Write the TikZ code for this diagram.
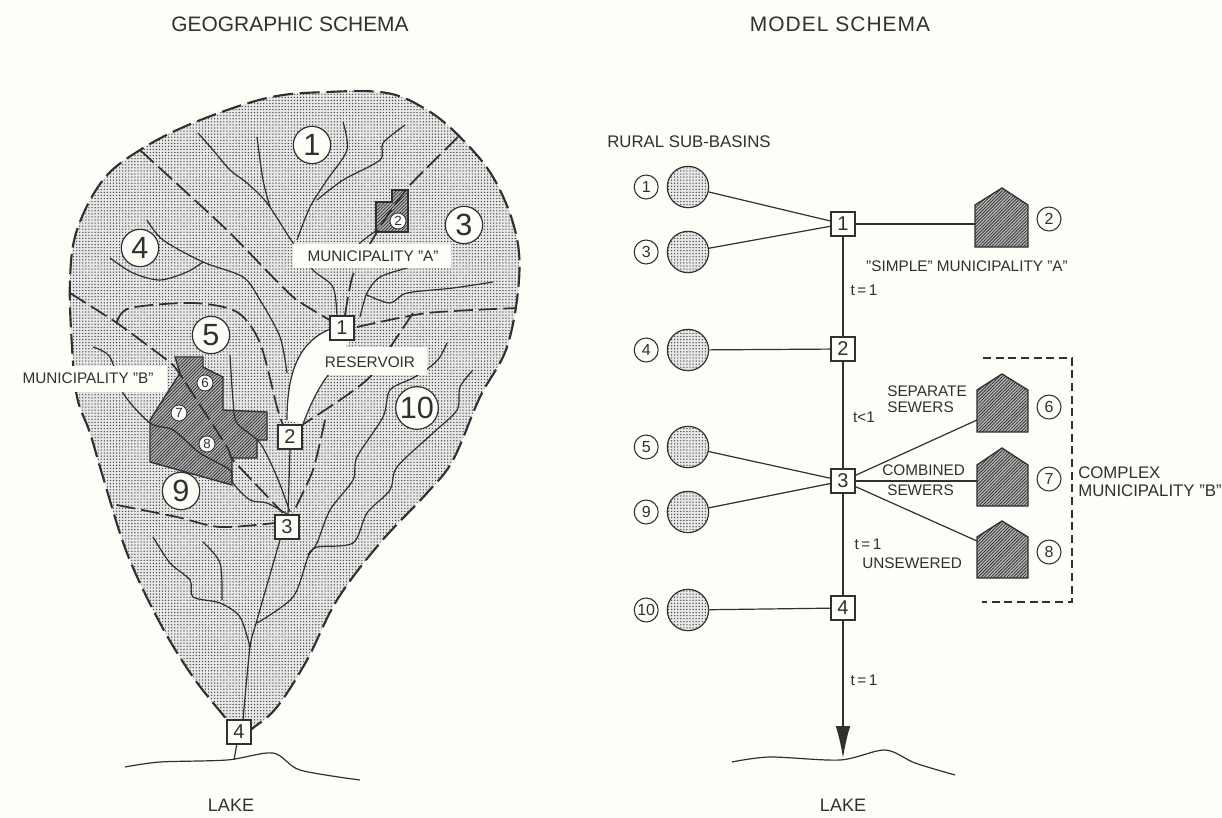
\documentclass[tikz,border=0pt]{standalone}
\usepackage{fontspec}
\setmainfont{Liberation Sans}
\usetikzlibrary{arrows.meta,positioning,patterns.meta}
\definecolor{paper}{RGB}{254,253,248}
\definecolor{ink}{RGB}{48,48,48}
\definecolor{stipple}{RGB}{70,70,70}
\tikzset{
  titletext/.style={text=ink, font=\fontsize{15.7}{17}\selectfont, inner sep=0pt},
  labeltext/.style={text=ink, font=\fontsize{11.5}{13.5}\selectfont, inner sep=0pt, align=left},
  widetext/.style={text=ink, font=\fontsize{12.6}{14}\selectfont, inner sep=0pt, align=left},
  laketext/.style={text=ink, font=\fontsize{13.5}{15}\selectfont, inner sep=0pt},
  whitebox/.style={fill=paper, inner sep=0pt},
  boxnode/.style={draw=ink, fill=paper, line width=1.1pt, minimum size=18pt, inner sep=0pt,
    text=ink, font=\fontsize{15}{17}\selectfont},
  bignum/.style={circle, draw=ink, fill=paper, line width=.9pt, minimum size=28pt, inner sep=0pt,
    text=ink, font=\fontsize{23}{25}\selectfont},
  midnum/.style={circle, draw=ink, fill=paper, line width=.8pt, minimum size=18pt, inner sep=0pt,
    text=ink, font=\fontsize{12}{14}\selectfont},
  smallnum/.style={circle, draw=ink, fill=paper, line width=.6pt, minimum size=12pt, inner sep=0pt,
    text=ink, font=\fontsize{10}{12}\selectfont},
  basinfill/.style={fill=black!9, postaction={pattern={Dots[distance=2.3pt,radius=.55pt]}, pattern color=stipple}},
  hatchfill/.style={fill=black!28, postaction={pattern={Lines[angle=45,distance=1.7pt,line width=.6pt]}, pattern color=black!80}},
  subbasin/.style={circle, draw=ink, line width=.9pt, minimum size=31pt, inner sep=0pt, basinfill},
  outline/.style={draw=ink, line width=1.6pt, dash pattern=on 15pt off 5pt},
  ridge/.style={draw=ink, line width=1.3pt, dash pattern=on 14pt off 4.5pt},
  river/.style={draw=ink, line width=.9pt},
  muni/.style={draw=ink, line width=1pt, hatchfill},
  link/.style={draw=ink, line width=.9pt},
  mainline/.style={draw=ink, line width=1.1pt}
}
\begin{document}
\begin{tikzpicture}[x=.75pt,y=-.75pt]
\useasboundingbox (0,0) rectangle (1222,818);
\fill[paper] (0,0) rectangle (1222,818);

\node[titletext] (geotitle) at (290,24) {GEOGRAPHIC SCHEMA};
\node[titletext] (modeltitle) at (840,24) {\addfontfeature{LetterSpace=5}MODEL SCHEMA};

\fill[basinfill] plot[smooth cycle,tension=.6] coordinates {(267,98) (327,92) (387,93) (427,110) (460,137) (493,177) (515,230) (519,280) (507,347) (480,397) (453,460) (427,493) (380,543) (337,600) (307,660) (277,707) (253,728) (239,738) (227,720) (193,677) (160,623) (127,553) (103,477) (90,433) (77,397) (72,347) (70,280) (77,230) (103,180) (140,150) (193,123)};
\draw[outline] plot[smooth cycle,tension=.6] coordinates {(267,98) (327,92) (387,93) (427,110) (460,137) (493,177) (515,230) (519,280) (507,347) (480,397) (453,460) (427,493) (380,543) (337,600) (307,660) (277,707) (253,728) (239,738) (227,720) (193,677) (160,623) (127,553) (103,477) (90,433) (77,397) (72,347) (70,280) (77,230) (103,180) (140,150) (193,123)};

\draw[muni] (175,357) -- (203,357) -- (203,367) -- (223,377) -- (223,410) -- (267,412) -- (267,440) -- (257,440) -- (257,458) -- (232,458) -- (232,485) -- (150,462) -- (150,420) -- (180,373) -- cycle;
\draw[muni] (392,190) -- (408,190) -- (408,232) -- (376,232) -- (376,202) -- (392,202) -- cycle;

\draw[ridge] plot[smooth,tension=.3] coordinates {(140,150) (227,230) (293,297) (342,327)};
\draw[ridge] plot[smooth,tension=.3] coordinates {(458,137) (410,185) (383,222) (353,275) (345,315)};
\draw[ridge] plot[smooth,tension=.4] coordinates {(357,327) (427,313) (517,308)};
\draw[ridge] plot[smooth,tension=.3] coordinates {(70,293) (117,323) (163,357) (177,370) (227,447) (233,460) (283,513)};
\draw[ridge] plot[smooth,tension=.5] coordinates {(117,322) (130,308) (193,303) (237,312) (260,343) (277,407) (283,425)};
\draw[ridge] plot[smooth,tension=.4] coordinates {(413,313) (393,343) (370,377) (340,400) (302,425)};
\draw[ridge] plot[smooth,tension=.4] coordinates {(325,420) (313,470) (293,513)};
\draw[ridge] plot[smooth,tension=.5] coordinates {(117,505) (177,517) (220,527) (275,523)};

\draw[river] plot[smooth,tension=.5] coordinates {(198,133) (213,150) (230,170) (247,183) (267,203) (293,243) (313,270) (333,287) (337,317)};
\draw[river] plot[smooth,tension=.5] coordinates {(257,137) (263,180) (270,207)};
\draw[river] plot[smooth,tension=.5] coordinates {(343,122) (347,150) (327,180) (310,207) (297,240)};
\draw[river] plot[smooth,tension=.5] coordinates {(405,125) (383,143) (380,160) (343,180) (317,200)};
\draw[river] plot[smooth,tension=.5] coordinates {(377,230) (360,243) (352,255)};
\draw[river] plot[smooth,tension=.5] coordinates {(407,268) (380,277) (367,293) (360,317)};
\draw[river] plot[smooth,tension=.5] coordinates {(493,282) (453,288) (407,293) (390,303) (367,295)};
\draw[river] plot[smooth,tension=.5] coordinates {(147,220) (163,240) (203,262) (243,277) (260,300) (280,337) (287,373)};
\draw[river] plot[smooth,tension=.5] coordinates {(110,258) (133,273) (160,280) (187,272) (203,262)};
\draw[river] plot[smooth,tension=.5] coordinates {(230,355) (233,400) (237,423) (260,443) (277,477) (290,512)};
\draw[river] (290,450) -- (288,515);
\draw[river] plot[smooth,tension=.5] coordinates {(93,347) (110,357) (123,393) (150,423) (173,430) (200,453) (230,470) (233,483) (250,500) (267,503) (287,514)};
\draw[river] plot[smooth,tension=.5] coordinates {(447,343) (440,357) (430,367) (413,378) (390,390) (383,417) (357,457) (353,480) (330,510) (317,543) (308,557) (293,597) (257,623)};
\draw[river] plot[smooth,tension=.5] coordinates {(473,370) (460,387) (457,410) (433,433) (397,467) (390,490) (367,513) (353,543) (317,547) (308,555)};
\draw[river] plot[smooth,tension=.4] coordinates {(280,540) (257,620) (250,647) (243,720)};
\draw[river] plot[smooth,tension=.5] coordinates {(153,537) (170,563) (190,580) (193,597) (220,603) (240,617) (250,647)};
\draw[river] plot[smooth,tension=.5] coordinates {(203,542) (220,563) (222,600)};

\fill[paper] (333,328) .. controls (300,340) and (287,370) .. (287,420) -- (303,424) .. controls (312,400) and (320,385) .. (332,370) -- (350,340) -- cycle;
\draw[draw=ink,line width=.9pt] (333,328) .. controls (300,340) and (287,370) .. (287,420);
\draw[draw=ink,line width=.9pt] (303,424) .. controls (312,400) and (320,385) .. (332,370);

\node[whitebox,minimum width=119pt,minimum height=18pt] (munalabel) at (372,256) {};
\node[labeltext] (munatext) at (373,256) {MUNICIPALITY "A"};
\node[whitebox,minimum width=78pt,minimum height=21pt] (reslabel) at (375,361) {};
\node[labeltext] (restext) at (370,362) {RESERVOIR};
\node[whitebox,minimum width=120pt,minimum height=19pt] (munblabel) at (87,379) {};
\node[labeltext] (munbtext) at (88,378) {MUNICIPALITY "B"};

\node[bignum] (g1) at (312,145) {1};
\node[bignum] (g3) at (464,225) {3};
\node[bignum] (g4) at (140,248) {4};
\node[bignum] (g5) at (211,335) {5};
\node[bignum,minimum size=32pt] (g10) at (417,408) {10};
\node[bignum] (g9) at (181,491) {9};
\node[smallnum] (g2) at (398,221) {2};
\node[smallnum] (g6) at (205,383) {6};
\node[smallnum] (g7) at (179,413) {7};
\node[smallnum] (g8) at (207,444) {8};

\node[boxnode] (b1) at (342,328) {1};
\node[boxnode] (b2) at (290,437) {2};
\node[boxnode] (b3) at (287,527) {3};
\node[boxnode] (b4) at (239,732) {4};

\coordinate (lakeleft) at (234,760);
\draw[river] (b4) -- (lakeleft);
\draw[river] plot[smooth,tension=.5] coordinates {(125,767) (160,762) (227,760) (273,753) (300,770) (360,780)};
\node[laketext] (lakeleftlabel) at (231,805) {LAKE};

\node[widetext,anchor=west] (ruraltext) at (607,142) {RURAL SUB-BASINS};

\node[boxnode] (m1) at (843,224) {1};
\node[boxnode] (m2) at (843,349) {2};
\node[boxnode] (m3) at (843,481) {3};
\node[boxnode] (m4) at (843,608) {4};

\node[subbasin] (r1) at (688,187) {};
\node[subbasin] (r3) at (688,252) {};
\node[subbasin] (r4) at (688,350) {};
\node[subbasin] (r5) at (688,447) {};
\node[subbasin] (r9) at (688,512) {};
\node[subbasin] (r10) at (688,610) {};
\node[midnum,left=6pt of r1] (n1) {1};
\node[midnum,left=6pt of r3] (n3) {3};
\node[midnum,left=6pt of r4] (n4) {4};
\node[midnum,left=6pt of r5] (n5) {5};
\node[midnum,left=6pt of r9] (n9) {9};
\node[midnum,left=6pt of r10] (n10) {10};

\draw[muni] (1002,188) -- (1028,205) -- (1028,247) -- (975,247) -- (975,205) -- cycle;
\draw[muni] (1002,374) -- (1028,390) -- (1028,432) -- (977,432) -- (977,390) -- cycle;
\draw[muni] (1002,448) -- (1028,465) -- (1028,506) -- (977,506) -- (977,465) -- cycle;
\draw[muni] (1002,521) -- (1028,537) -- (1028,578) -- (977,578) -- (977,537) -- cycle;
\coordinate (h2) at (975,224);
\coordinate (h6) at (977,420);
\coordinate (h7) at (977,481);
\coordinate (h8) at (977,541);
\node[midnum] (n2) at (1049,219) {2};
\node[midnum] (n6) at (1049,407) {6};
\node[midnum] (n7) at (1049,479) {7};
\node[midnum] (n8) at (1049,552) {8};

\draw[link] (r1) -- (m1);
\draw[link] (r3) -- (m1);
\draw[link] (r4) -- (m2);
\draw[link] (r5) -- (m3);
\draw[link] (r9) -- (m3);
\draw[link] (r10) -- (m4);
\draw[link] (m1) -- (h2);
\draw[link] (m3) -- (h6);
\draw[link] (m3) -- (h7);
\draw[link] (m3) -- (h8);

\coordinate (laketip) at (843,758);
\draw[mainline] (m1) -- (m2);
\draw[mainline] (m2) -- (m3);
\draw[mainline] (m3) -- (m4);
\draw[mainline,-{Latex[length=24pt,width=11pt]}] (m4) -- (laketip);
\draw[river] plot[smooth,tension=.5] coordinates {(732,762) (770,757) (840,760) (885,750) (915,763) (955,775)};
\node[laketext] (lakerightlabel) at (843,805) {LAKE};

\draw[draw=ink,line width=1pt,dash pattern=on 6pt off 3.5pt] (983,358) -- (1072,358) -- (1072,602) -- (982,602);

\node[labeltext] (tone) at (864,290) {t\,=\,1};
\node[labeltext] (tless) at (864,417) {t<1};
\node[labeltext] (ttwo) at (868,544) {t\,=\,1};
\node[labeltext] (tthree) at (864,680) {t\,=\,1};
\node[labeltext] (simple) at (967,266) {"SIMPLE" MUNICIPALITY "A"};
\node[labeltext,anchor=north west,font=\fontsize{11.5}{12}\selectfont] (separate) at (887,386) {SEPARATE\\SEWERS};
\node[labeltext,anchor=west] (combined) at (882,470) {COMBINED};
\node[labeltext,anchor=west] (sewers) at (887,490) {SEWERS};
\node[labeltext,anchor=west] (unsewered) at (862,563) {UNSEWERED};
\node[widetext,anchor=west] (complex) at (1078,473) {COMPLEX};
\node[widetext,anchor=west] (munb) at (1078,491) {MUNICIPALITY "B"};
\end{tikzpicture}
\end{document}
